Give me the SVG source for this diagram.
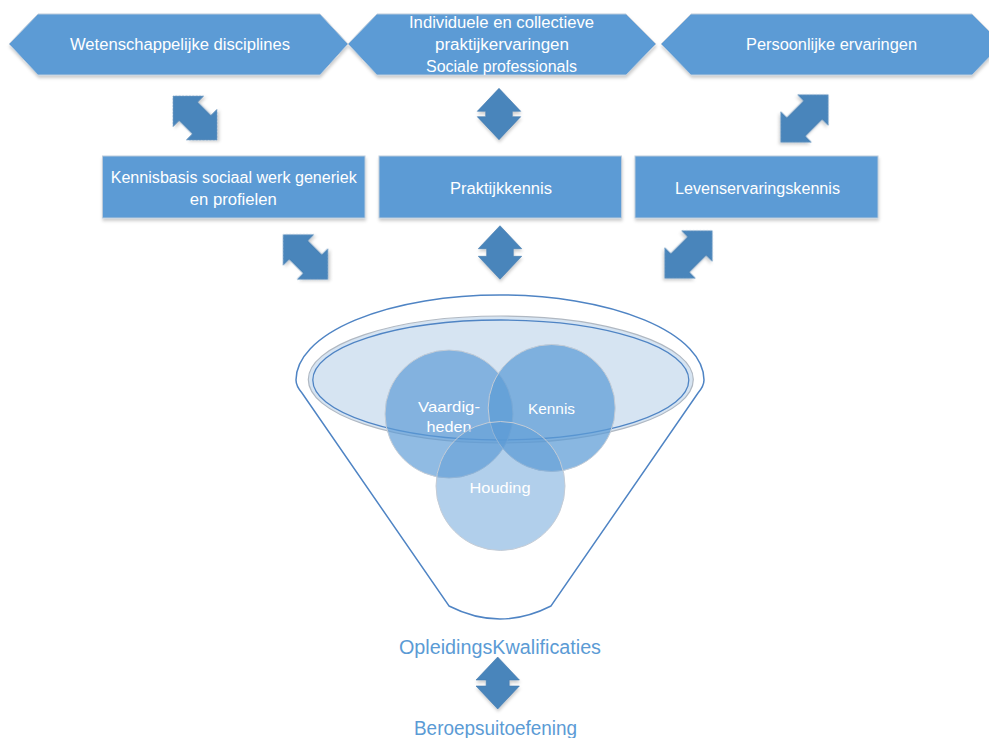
<svg xmlns="http://www.w3.org/2000/svg" width="989" height="738" viewBox="0 0 989 738">
<defs>
<filter id="sh" x="-10%" y="-10%" width="125%" height="135%">
<feDropShadow dx="0.5" dy="2.5" stdDeviation="1.8" flood-color="#000" flood-opacity="0.2"/>
</filter>
<style>
.box{fill:#5b9bd5;stroke:#bccbdb;stroke-width:1;filter:url(#sh)}
.t{font-family:"Liberation Sans",Arial,sans-serif;font-size:16px;fill:#ffffff;text-anchor:middle}
.c{font-family:"Liberation Sans",Arial,sans-serif;font-size:15px;fill:#ffffff;text-anchor:middle}
.lbl{font-family:"Liberation Sans",Arial,sans-serif;font-size:20px;fill:#5b9bd5;text-anchor:middle}
.arr{fill:#4a85bb;stroke:#4279ad;stroke-width:0.6;filter:url(#sh)}
.circ{stroke:#c4ccd6;stroke-width:1}
</style>
</defs>
<rect width="989" height="738" fill="#ffffff"/>

<g id="wetenschappelijke-disciplines">
<polygon class="box" points="9,44 38,14 320,14 348,44 320,75 38,75"/>
<text class="t" x="180" y="50" textLength="220" lengthAdjust="spacingAndGlyphs">Wetenschappelijke disciplines</text>
</g>
<g id="praktijkervaringen">
<polygon class="box" points="348,44 377,14 626,14 656,44 626,75 377,75"/>
<text class="t" x="501.5" y="28" textLength="185" lengthAdjust="spacingAndGlyphs">Individuele en collectieve</text>
<text class="t" x="502" y="50" textLength="134" lengthAdjust="spacingAndGlyphs">praktijkervaringen</text>
<text class="t" x="501.5" y="72" textLength="151" lengthAdjust="spacingAndGlyphs">Sociale professionals</text>
</g>
<g id="persoonlijke-ervaringen">
<polygon class="box" points="661,44 691,14 972,14 1002,44 972,75 691,75"/>
<text class="t" x="831.5" y="50" textLength="171" lengthAdjust="spacingAndGlyphs">Persoonlijke ervaringen</text>
</g>

<g id="kennisbasis">
<rect class="box" x="102.5" y="156" width="262.5" height="62"/>
<text class="t" x="233.7" y="183" textLength="246" lengthAdjust="spacingAndGlyphs">Kennisbasis sociaal werk generiek</text>
<text class="t" x="233.3" y="204.5" textLength="87" lengthAdjust="spacingAndGlyphs">en profielen</text>
</g>
<g id="praktijkkennis">
<rect class="box" x="379" y="156" width="242.5" height="62"/>
<text class="t" x="501" y="194" textLength="102" lengthAdjust="spacingAndGlyphs">Praktijkkennis</text>
</g>
<g id="levenservaringskennis">
<rect class="box" x="635" y="156" width="243" height="62"/>
<text class="t" x="757.5" y="194" textLength="165" lengthAdjust="spacingAndGlyphs">Levenservaringskennis</text>
</g>

<g id="funnel">
<path d="M296,380 A204,85 0 0 1 704,380 Q704,386 698,393 L551,606 Q500,632 449,606 L302,393 Q296,386 296,380 Z" fill="#ffffff" stroke="#4f84c4" stroke-width="1.5"/>
<ellipse cx="500.8" cy="379.5" rx="192.5" ry="63.5" fill="#d6e4f2" stroke="#b0b8c2" stroke-width="1.2"/>
<ellipse cx="500.8" cy="380" rx="188" ry="60" fill="none" stroke="#4f84c4" stroke-width="1.3"/>
</g>
<g id="vaardigheden">
<circle class="circ" cx="449" cy="414" r="64" fill="#5b9bd5" fill-opacity="0.68"/>
<text class="c" x="449" y="411.5" textLength="62" lengthAdjust="spacingAndGlyphs">Vaardig-</text>
<text class="c" x="449" y="431.5" textLength="45" lengthAdjust="spacingAndGlyphs">heden</text>
</g>
<g id="kennis">
<circle class="circ" cx="551.7" cy="408" r="63.5" fill="#5b9bd5" fill-opacity="0.72"/>
<text class="c" x="551.5" y="414" textLength="47" lengthAdjust="spacingAndGlyphs">Kennis</text>
</g>
<g id="houding">
<circle class="circ" cx="500.5" cy="486" r="64.5" fill="#5b9bd5" fill-opacity="0.48"/>
<text class="c" x="500" y="492.5" textLength="61" lengthAdjust="spacingAndGlyphs">Houding</text>
</g>

<g id="opleidingskwalificaties">
<text class="lbl" x="500" y="654" textLength="202" lengthAdjust="spacingAndGlyphs">OpleidingsKwalificaties</text>
</g>
<g id="beroepsuitoefening">
<text class="lbl" x="495.5" y="735" textLength="163" lengthAdjust="spacingAndGlyphs">Beroepsuitoefening</text>
</g>

<g id="connectors">
<polygon class="arr" transform="translate(195,118) rotate(-45)" points="0,-31 21.5,-9.5 13,-9.5 13,9.5 21.5,9.5 0,31 -21.5,9.5 -13,9.5 -13,-9.5 -21.5,-9.5"/>
<polygon class="arr" transform="translate(499,114)" points="0,-25.7 21.7,-2.7 13.3,-2.7 13.3,2.7 21.7,2.7 0,25.7 -21.7,2.7 -13.3,2.7 -13.3,-2.7 -21.7,-2.7"/>
<polygon class="arr" transform="translate(804.5,118.5) rotate(45)" points="0,-33.5 21.5,-12 13,-12 13,12 21.5,12 0,33.5 -21.5,12 -13,12 -13,-12 -21.5,-12"/>
<polygon class="arr" transform="translate(305.5,257) rotate(-45)" points="0,-31.5 21.5,-10 13,-10 13,10 21.5,10 0,31.5 -21.5,10 -13,10 -13,-10 -21.5,-10"/>
<polygon class="arr" transform="translate(500,252.5)" points="0,-26.8 21.7,-3.8 13.3,-3.8 13.3,3.8 21.7,3.8 0,26.8 -21.7,3.8 -13.3,3.8 -13.3,-3.8 -21.7,-3.8"/>
<polygon class="arr" transform="translate(688.5,254.5) rotate(45)" points="0,-33.5 21.5,-12 13,-12 13,12 21.5,12 0,33.5 -21.5,12 -13,12 -13,-12 -21.5,-12"/>
<polygon class="arr" transform="translate(497.7,683)" points="0,-26 21.7,-3 11.5,-3 11.5,3 21.7,3 0,26 -21.7,3 -11.5,3 -11.5,-3 -21.7,-3"/>
</g>
</svg>
